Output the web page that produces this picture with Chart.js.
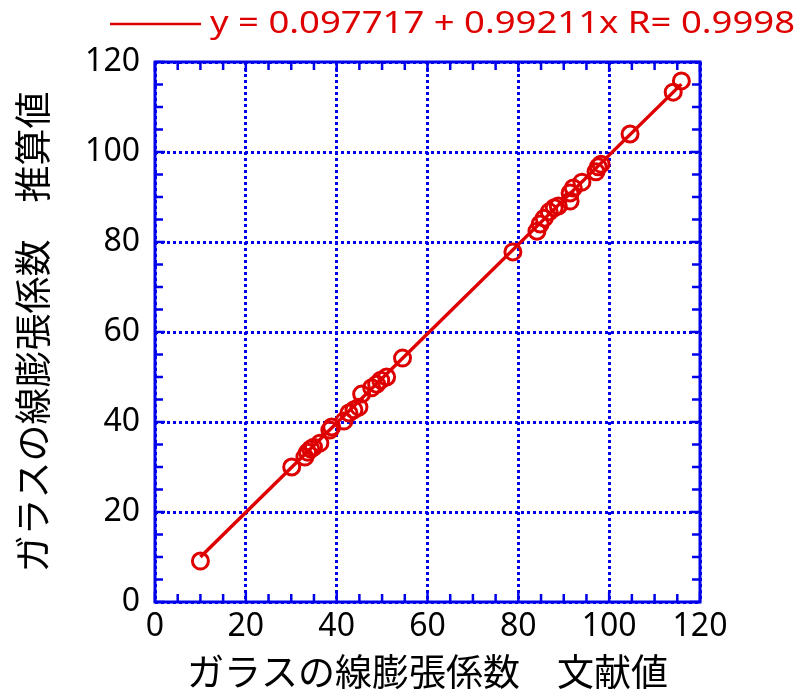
<!DOCTYPE html>
<html>
<head>
<meta charset="utf-8">
<script src="https://cdn.jsdelivr.net/npm/chart.js@4.4.1/dist/chart.umd.min.js"></script>
<style>
  html, body { margin: 0; padding: 0; background: #fff; }
  #wrap { width: 806px; height: 690px; }
</style>
</head>
<body>
<div id="wrap"><canvas id="glassChart" width="806" height="690"></canvas></div>
<script>
// 文献値 (x) と 推算値 (y)
var literature = [10.0, 30.1, 33.0, 33.6, 34.3, 34.9, 36.3, 38.5, 38.9, 41.6, 42.7, 43.8, 44.9, 45.5,
  47.7, 48.8, 49.7, 51.0, 54.5, 78.8, 84.1, 84.8, 85.7, 86.8, 87.9, 88.8, 91.4, 91.4, 92.1,
  94.0, 97.1, 97.6, 98.2, 104.6, 114.1, 115.9];
var estimated = [9.1, 30.0, 32.2, 33.3, 34.0, 34.4, 35.3, 38.2, 38.9, 40.2, 42.0, 42.7, 43.3, 46.2,
  47.6, 48.4, 49.3, 50.0, 54.2, 77.8, 82.4, 84.0, 85.3, 86.7, 87.6, 88.0, 89.1, 90.9, 92.0,
  93.3, 95.6, 96.7, 97.3, 104.0, 113.3, 115.8];

// 回帰直線
var fitA = 0.097717, fitB = 0.99211, fitR = 0.9998;
var fitX = [10.0, 115.9];
var fitLabel = 'y = ' + fitA + ' + ' + fitB + 'x R= ' + fitR;

var xTicks = [0, 20, 40, 60, 80, 100, 120];
var yTicks = [0, 20, 40, 60, 80, 100, 120];

var red = 'rgb(222,0,0)';
var blue = 'rgb(0,0,235)';
var fontJP = '"Noto Sans CJK JP", sans-serif';
var fontNum = '"Noto Sans", sans-serif';

var pts = literature.map(function (v, i) { return { x: v, y: estimated[i] }; });
var fitPts = fitX.map(function (v) { return { x: v, y: fitA + fitB * v }; });

// 内向きの目盛りと枠、凡例を描く
var framePlugin = {
  id: 'frame',
  afterDraw: function (chart) {
    var ctx = chart.ctx, a = chart.chartArea;
    var xs = chart.scales.x, ys = chart.scales.y;
    ctx.save();
    ctx.strokeStyle = blue;
    ctx.lineWidth = 2.5;
    for (var v = 0; v <= 120; v += 5) {
      var len = (v % 20 === 0) ? 10 : 8;
      var px = xs.getPixelForValue(v);
      ctx.beginPath();
      ctx.moveTo(px, a.bottom); ctx.lineTo(px, a.bottom - len);
      ctx.moveTo(px, a.top); ctx.lineTo(px, a.top + len);
      var py = ys.getPixelForValue(v);
      ctx.moveTo(a.left, py); ctx.lineTo(a.left + len, py);
      ctx.moveTo(a.right, py); ctx.lineTo(a.right - len, py);
      ctx.stroke();
    }
    ctx.lineWidth = 3;
    ctx.strokeRect(a.left, a.top, a.right - a.left, a.bottom - a.top);

    // 凡例
    ctx.strokeStyle = red;
    ctx.lineWidth = 2.5;
    ctx.beginPath();
    ctx.moveTo(110, 24); ctx.lineTo(201, 24);
    ctx.stroke();
    ctx.fillStyle = red;
    ctx.font = '31px ' + fontNum;
    ctx.textBaseline = 'middle';
    var w = ctx.measureText(fitLabel).width;
    var target = 585;
    ctx.translate(210, 24);
    ctx.scale(target / w, 1);
    ctx.fillText(fitLabel, 0, 0);
    ctx.restore();
  }
};

new Chart(document.getElementById('glassChart'), {
  type: 'scatter',
  data: {
    datasets: [
      {
        label: fitLabel,
        data: fitPts,
        showLine: true,
        borderColor: red,
        borderWidth: 3.5,
        pointRadius: 0,
        order: 2
      },
      {
        label: 'data',
        data: pts,
        borderColor: red,
        backgroundColor: 'rgba(0,0,0,0)',
        borderWidth: 3,
        pointRadius: 8,
        order: 1
      }
    ]
  },
  options: {
    responsive: false,
    animation: false,
    layout: { padding: { top: 62, right: 106, left: 0, bottom: 0 } },
    plugins: { legend: { display: false }, tooltip: { enabled: false } },
    scales: {
      x: {
        type: 'linear', min: 0, max: 120,
        afterBuildTicks: function (s) { s.ticks = xTicks.map(function (v) { return { value: v }; }); },
        afterFit: function (s) { s.height = 88; },
        grid: { color: blue, lineWidth: 3, drawTicks: false },
        border: { display: false, dash: [3, 3] },
        ticks: { color: '#000', font: { size: 32, family: fontNum }, padding: 6, maxRotation: 0 },
        title: { display: true, text: 'ガラスの線膨張係数　文献値', color: '#000',
          font: { size: 37, family: fontJP, lineHeight: 1.0 }, padding: { top: 0, bottom: 0 } }
      },
      y: {
        type: 'linear', min: 0, max: 120,
        afterBuildTicks: function (s) { s.ticks = yTicks.map(function (v) { return { value: v }; }); },
        afterFit: function (s) { s.width = 155; },
        grid: { color: blue, lineWidth: 3, drawTicks: false },
        border: { display: false, dash: [3, 3] },
        ticks: { color: '#000', font: { size: 32, family: fontNum }, padding: 15 },
        title: { display: true, text: 'ガラスの線膨張係数　推算値', color: '#000',
          font: { size: 37, family: fontJP, lineHeight: 1.2 }, padding: { top: 11, bottom: 0 } }
      }
    }
  },
  plugins: [framePlugin]
});
</script>
</body>
</html>
